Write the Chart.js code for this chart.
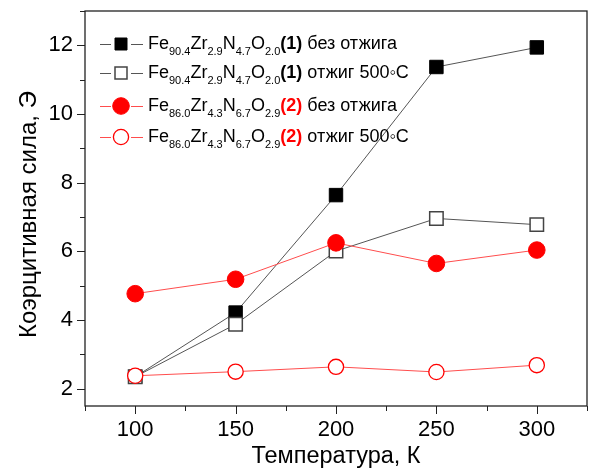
<!DOCTYPE html>
<html>
<head>
<meta charset="utf-8">
<script src="https://cdn.jsdelivr.net/npm/chart.js@4"></script>
<style>
  body { margin: 0; background: #fff; }
  #wrap { width: 598px; height: 473px; }
</style>
</head>
<body>
<div id="wrap"><canvas id="graph" width="598" height="473"></canvas></div>
<script>
// temperature, K
const temps = [100, 150, 200, 250, 300];
// coercive force, Oe
const feZr1Raw = [2.35, 4.22, 7.64, 11.37, 11.94];
const feZr1Annealed = [2.35, 3.88, 6.01, 6.96, 6.78];
const feZr2Raw = [4.77, 5.19, 6.25, 5.65, 6.04];
const feZr2Annealed = [2.38, 2.50, 2.64, 2.49, 2.69];

const xTicksMajor = [100, 150, 200, 250, 300];
const yTicksMajor = [2, 4, 6, 8, 10, 12];

const FONT = '"Liberation Sans", Arial, sans-serif';
const RED = '#ff0000';

function pts(vals) {
    return temps.map((t, i) => ({ x: t, y: vals[i] }));
}

// legend rows: formula pieces, sub = subscript
const legendRows = [
    { ds: 0, y: 44, parts: [['Fe'], ['90.4', 'sub'], ['Zr'], ['2.9', 'sub'], ['N'], ['4.7', 'sub'], ['O'], ['2.0', 'sub'], ['(1)', 'bold', '#000'], [' без отжига']] },
    { ds: 1, y: 73, parts: [['Fe'], ['90.4', 'sub'], ['Zr'], ['2.9', 'sub'], ['N'], ['4.7', 'sub'], ['O'], ['2.0', 'sub'], ['(1)', 'bold', '#000'], [' отжиг 500\u25E6C']] },
    { ds: 2, y: 106, parts: [['Fe'], ['86.0', 'sub'], ['Zr'], ['4.3', 'sub'], ['N'], ['6.7', 'sub'], ['O'], ['2.9', 'sub'], ['(2)', 'bold', RED], [' без отжига']] },
    { ds: 3, y: 137, parts: [['Fe'], ['86.0', 'sub'], ['Zr'], ['4.3', 'sub'], ['N'], ['6.7', 'sub'], ['O'], ['2.9', 'sub'], ['(2)', 'bold', RED], [' отжиг 500\u25E6C']] }
];

const frameAndLegend = {
    id: 'frameAndLegend',
    afterDraw(chart) {
        const ctx = chart.ctx;
        const a = chart.chartArea;
        const xs = chart.scales.x, ys = chart.scales.y;
        ctx.save();
        ctx.strokeStyle = '#222';
        ctx.lineWidth = 1.3;
        ctx.strokeRect(a.left, a.top, a.right - a.left, a.bottom - a.top);
        // outward ticks, long for labelled values
        ctx.lineWidth = 1;
        ctx.beginPath();
        xs.ticks.forEach(t => {
            const px = Math.round(xs.getPixelForValue(t.value)) + 0.5;
            const len = xTicksMajor.includes(t.value) ? 8 : 5;
            ctx.moveTo(px, a.bottom);
            ctx.lineTo(px, a.bottom + len);
        });
        ys.ticks.forEach(t => {
            const py = Math.round(ys.getPixelForValue(t.value)) + 0.5;
            const len = yTicksMajor.includes(t.value) ? 8 : 5;
            ctx.moveTo(a.left, py);
            ctx.lineTo(a.left - len, py);
        });
        ctx.stroke();

        // legend: line stubs, marker, formula text
        legendRows.forEach(row => {
            const ds = chart.data.datasets[row.ds];
            ctx.strokeStyle = ds.borderColor;
            ctx.lineWidth = 1;
            ctx.beginPath();
            ctx.moveTo(100, row.y + 0.5);
            ctx.lineTo(111, row.y + 0.5);
            ctx.moveTo(131, row.y + 0.5);
            ctx.lineTo(143, row.y + 0.5);
            ctx.stroke();
            ctx.fillStyle = ds.pointBackgroundColor;
            ctx.strokeStyle = ds.pointBorderColor;
            ctx.lineWidth = ds.pointBorderWidth;
            ctx.beginPath();
            if (ds.pointStyle === 'rect') {
                const s = 6;
                ctx.rect(121 - s, row.y - s, 2 * s, 2 * s);
            } else {
                ctx.arc(121, row.y, ds.pointRadius, 0, Math.PI * 2);
            }
            ctx.fill();
            ctx.stroke();

            let x = 148;
            ctx.textBaseline = 'alphabetic';
            row.parts.forEach(p => {
                const sub = p[1] === 'sub';
                const bold = p[1] === 'bold';
                ctx.font = (bold ? 'bold ' : '') + (sub ? '11px ' : '18px ') + FONT;
                ctx.fillStyle = p[2] || '#000';
                ctx.fillText(p[0], x, row.y + (sub ? 11 : 5));
                x += ctx.measureText(p[0]).width;
            });
        });
        ctx.restore();
    }
};

new Chart(document.getElementById('graph'), {
    type: 'line',
    data: {
        datasets: [
            {
                label: 'Fe90.4Zr2.9N4.7O2.0(1) без отжига',
                data: pts(feZr1Raw),
                borderColor: '#555',
                borderWidth: 1,
                pointStyle: 'rect',
                pointRadius: 9.5,
                pointBackgroundColor: '#000',
                pointBorderColor: '#000',
                pointBorderWidth: 1,
                order: 4
            },
            {
                label: 'Fe90.4Zr2.9N4.7O2.0(1) отжиг 500°C',
                data: pts(feZr1Annealed),
                borderColor: '#555',
                borderWidth: 1,
                pointStyle: 'rect',
                pointRadius: 9.5,
                pointBackgroundColor: '#fff',
                pointBorderColor: '#444',
                pointBorderWidth: 1.5,
                order: 3
            },
            {
                label: 'Fe86.0Zr4.3N6.7O2.9(2) без отжига',
                data: pts(feZr2Raw),
                borderColor: '#ff4d4d',
                borderWidth: 1,
                pointStyle: 'circle',
                pointRadius: 8.3,
                pointBackgroundColor: RED,
                pointBorderColor: RED,
                pointBorderWidth: 1,
                order: 2
            },
            {
                label: 'Fe86.0Zr4.3N6.7O2.9(2) отжиг 500°C',
                data: pts(feZr2Annealed),
                borderColor: '#ff4d4d',
                borderWidth: 1,
                pointStyle: 'circle',
                pointRadius: 7.6,
                pointBackgroundColor: '#fff',
                pointBorderColor: RED,
                pointBorderWidth: 1.3,
                order: 1
            }
        ]
    },
    options: {
        responsive: false,
        animation: false,
        devicePixelRatio: 1,
        layout: { padding: { left: 0, right: -1, top: 10, bottom: 0 } },
        plugins: { legend: { display: false }, tooltip: { enabled: false } },
        elements: { line: { tension: 0 } },
        scales: {
            x: {
                type: 'linear',
                min: 75,
                max: 325,
                afterFit: s => { s.height = 67; s.paddingLeft = 0; s.paddingRight = 0; },
                afterBuildTicks: s => {
                    s.ticks = [75, 100, 125, 150, 175, 200, 225, 250, 275, 300, 325].map(v => ({ value: v }));
                },
                ticks: {
                    autoSkip: false,
                    maxRotation: 0,
                    padding: 3,
                    color: '#000',
                    font: { family: FONT, size: 22 },
                    callback: v => xTicksMajor.includes(v) ? String(v) : ''
                },
                grid: { drawOnChartArea: false, drawTicks: true, tickLength: 8, color: 'transparent' },
                border: { display: false },
                title: {
                    display: true,
                    text: 'Температура, К',
                    color: '#000',
                    font: { family: FONT, size: 23.5 },
                    padding: { top: 0, bottom: 2 }
                }
            },
            y: {
                min: 1.5,
                max: 13,
                afterFit: s => { s.width = 85; s.paddingTop = 0; s.paddingBottom = 0; },
                afterBuildTicks: s => {
                    s.ticks = [2, 3, 4, 5, 6, 7, 8, 9, 10, 11, 12, 13].map(v => ({ value: v }));
                },
                ticks: {
                    autoSkip: false,
                    padding: 4,
                    color: '#000',
                    font: { family: FONT, size: 22 },
                    callback: v => yTicksMajor.includes(v) ? String(v) : ''
                },
                grid: { drawOnChartArea: false, drawTicks: true, tickLength: 8, color: 'transparent' },
                border: { display: false },
                title: {
                    display: true,
                    // en space at the end nudges the rotated title down a little
                    text: 'Коэрцитивная сила, Э\u2002',
                    color: '#000',
                    font: { family: FONT, size: 24 },
                    padding: { top: 15, bottom: 0 }
                }
            }
        }
    },
    plugins: [frameAndLegend]
});
</script>
</body>
</html>
